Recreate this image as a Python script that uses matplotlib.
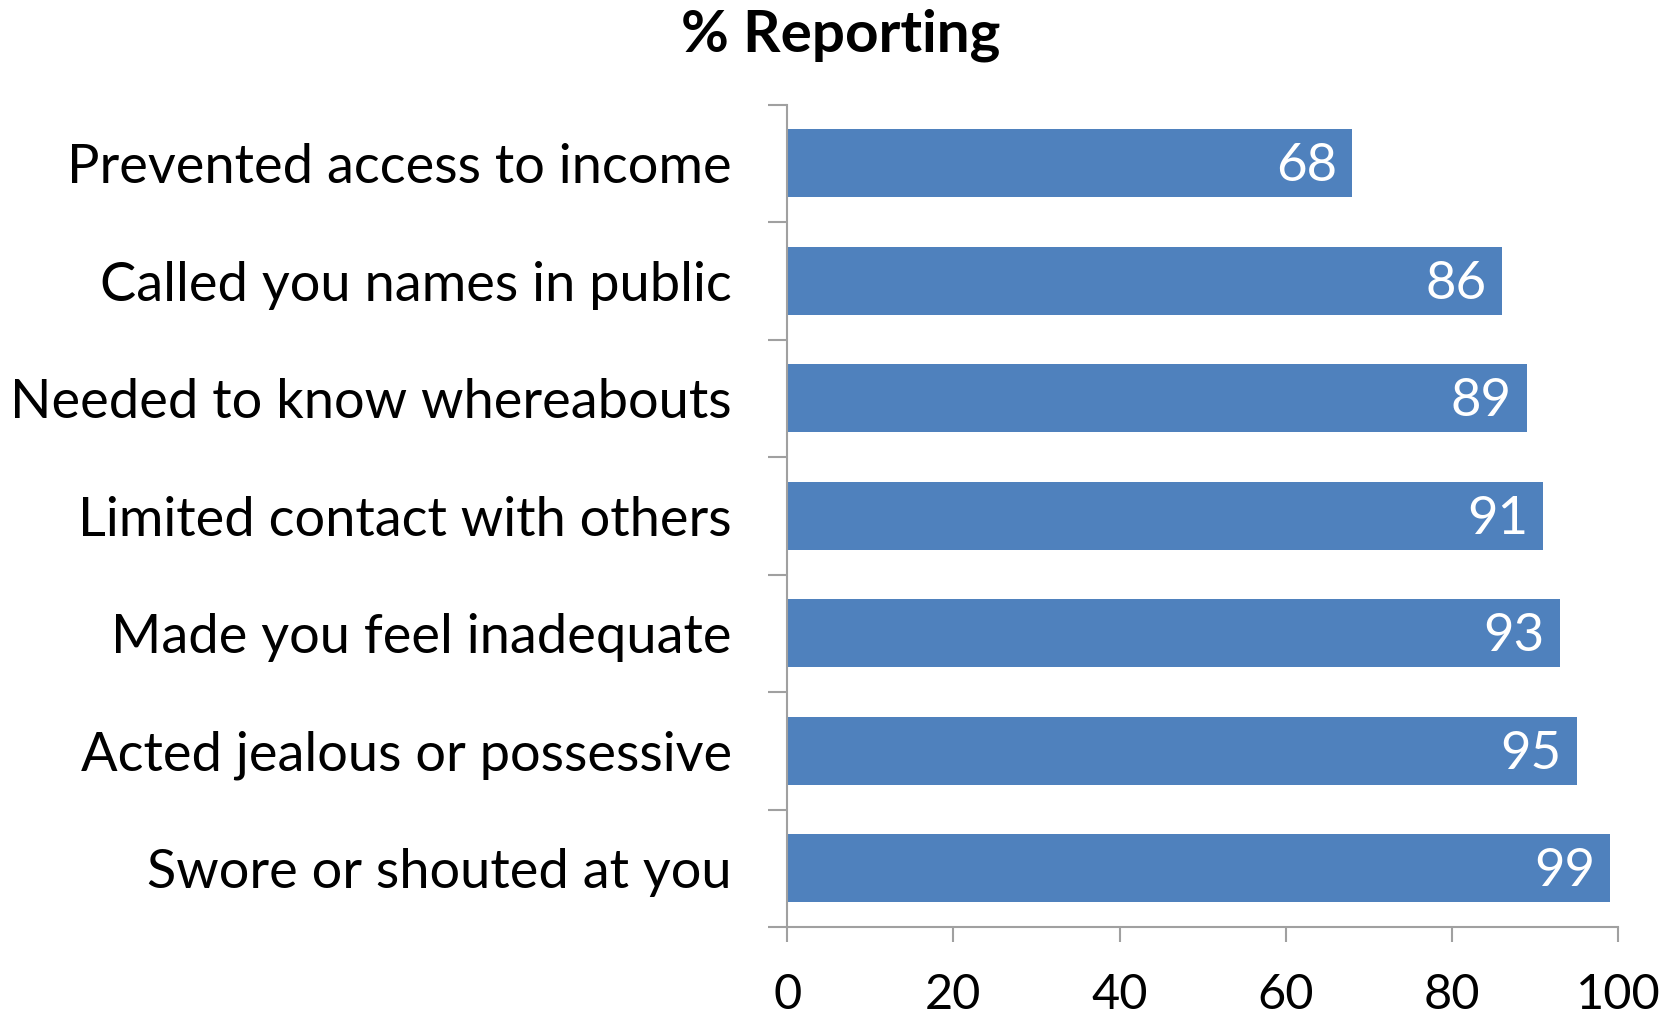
import matplotlib
matplotlib.use("Agg")
import matplotlib.pyplot as plt
import numpy as np
from matplotlib.ticker import FixedLocator

categories = [
    "Prevented access to income",
    "Called you names in public",
    "Needed to know whereabouts",
    "Limited contact with others",
    "Made you feel inadequate",
    "Acted jealous or possessive",
    "Swore or shouted at you",
]
values = [68, 86, 89, 91, 93, 95, 99]
x_ticks = [0, 20, 40, 60, 80, 100]

plt.rcParams["font.family"] = ["Lato", "DejaVu Sans"]

fig = plt.figure(figsize=(16.75, 10.14), dpi=100)
ax = fig.add_axes([0.470, 0.0858, 0.496, 0.811])

y = np.arange(len(categories))
ax.barh(y, values, height=0.58, color="#4F81BD", edgecolor="none", zorder=2)

ax.set_ylim(len(categories) - 0.5, -0.5)
ax.set_xlim(0, 100)

for yi, v in zip(y, values):
    ax.text(v - 1.8, yi + 0.03, f"{v}", ha="right", va="center",
            color="white", fontsize=38)

ax.set_yticks(y)
ax.set_yticklabels(categories, fontsize=39)
ax.yaxis.set_minor_locator(FixedLocator(np.arange(-0.5, len(categories), 1.0)))
ax.tick_params(axis="y", which="major", length=0, pad=40)
ax.tick_params(axis="y", which="minor", length=13.5, width=1.5, color="#A0A0A0",
               direction="out")

ax.set_xticks(x_ticks)
ax.set_xticklabels([str(t) for t in x_ticks], fontsize=35)
ax.tick_params(axis="x", which="major", length=11, width=1.5, color="#A0A0A0",
               direction="out", pad=22)

for side in ("top", "right"):
    ax.spines[side].set_visible(False)
for side in ("left", "bottom"):
    ax.spines[side].set_color("#A0A0A0")
    ax.spines[side].set_linewidth(1.5)

fig.text(0.502, 0.965, "% Reporting", ha="center", va="center",
         fontsize=42, fontweight="bold")

fig.savefig("out.png", dpi=100)
